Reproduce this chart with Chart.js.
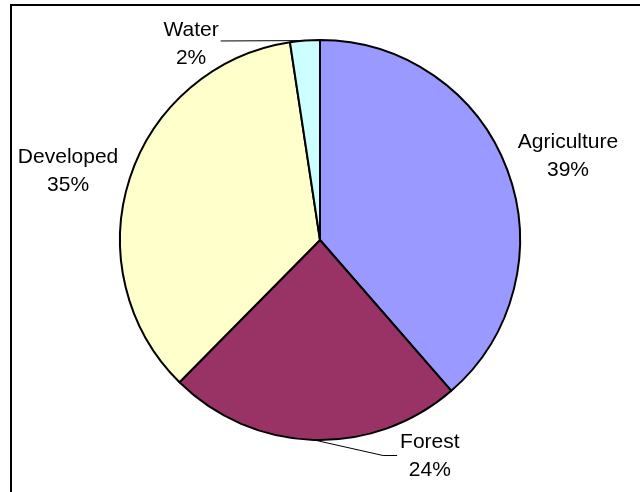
<!DOCTYPE html>
<html>
<head>
<meta charset="utf-8">
<script src="https://cdn.jsdelivr.net/npm/chart.js@4"></script>
<style>
  html, body { margin: 0; padding: 0; background: #fff; }
  canvas { display: block; }
</style>
</head>
<body>
<canvas id="landUse" width="640" height="492"></canvas>
<script>
/* land use shares */
const categories = ["Agriculture", "Forest", "Developed", "Water"];
const shares = [38.6, 23.8, 35.2, 2.4];
const sliceColors = ["#9999FF", "#993366", "#FFFFCC", "#CCFFFF"];

/* where each label sits: angle from top (deg, clockwise), distance in radii */
const labelPlacement = [
  { angle: 71.3, dist: 1.309 },
  { angle: 153.1, dist: 1.214, leader: "left" },
  { angle: 285.3, dist: 1.306 },
  { angle: 326.6, dist: 1.171, leader: "right" },
];

const total = shares.reduce((a, b) => a + b, 0);

const framePlugin = {
  id: "frame",
  beforeDraw(chart) {
    const ctx = chart.ctx;
    ctx.save();
    ctx.fillStyle = "#000";
    ctx.fillRect(10, 4, chart.width - 10, 2);
    ctx.fillRect(10, 4, 2, chart.height - 4);
    ctx.restore();
  },
};

const labelPlugin = {
  id: "sliceLabels",
  afterDatasetsDraw(chart) {
    const ctx = chart.ctx;
    const arcs = chart.getDatasetMeta(0).data;
    ctx.save();
    ctx.font = "21px 'Liberation Sans', Arial, sans-serif";
    ctx.fillStyle = "#000";
    ctx.textAlign = "center";
    ctx.textBaseline = "middle";
    arcs.forEach((arc, i) => {
      const p = labelPlacement[i];
      const r = arc.outerRadius;
      const a = (p.angle * Math.PI) / 180;
      const cx = arc.x + Math.sin(a) * p.dist * r;
      const cy = arc.y - Math.cos(a) * p.dist * r;
      const line1 = categories[i];
      const line2 = Math.round((shares[i] / total) * 100) + "%";
      ctx.fillText(line1, cx, cy - 14);
      ctx.fillText(line2, cx, cy + 14);

      if (p.leader) {
        const mid = (arc.startAngle + arc.endAngle) / 2;
        const px = arc.x + Math.cos(mid) * r;
        const py = arc.y + Math.sin(mid) * r;
        const w = ctx.measureText(line1).width;
        ctx.beginPath();
        ctx.lineWidth = 1;
        ctx.strokeStyle = "#000";
        if (p.leader === "left") {
          const left = cx - w / 2;
          ctx.moveTo(px, py);
          ctx.lineTo(left - 17, cy - 1);
          ctx.lineTo(left - 3, cy - 1);
        } else {
          const right = cx + w / 2;
          ctx.moveTo(right + 2, cy - 3.5);
          ctx.lineTo(px, py);
        }
        ctx.stroke();
      }
    });
    ctx.restore();
  },
};

new Chart(document.getElementById("landUse"), {
  type: "pie",
  data: {
    labels: categories,
    datasets: [
      {
        data: shares,
        backgroundColor: sliceColors,
        borderColor: "#000",
        borderWidth: 2,
      },
    ],
  },
  options: {
    responsive: false,
    animation: false,
    devicePixelRatio: 1,
    layout: {
      padding: { top: 39, bottom: 51, left: 119, right: 119 },
    },
    plugins: {
      legend: { display: false },
      tooltip: { enabled: false },
    },
  },
  plugins: [framePlugin, labelPlugin],
});
</script>
</body>
</html>
